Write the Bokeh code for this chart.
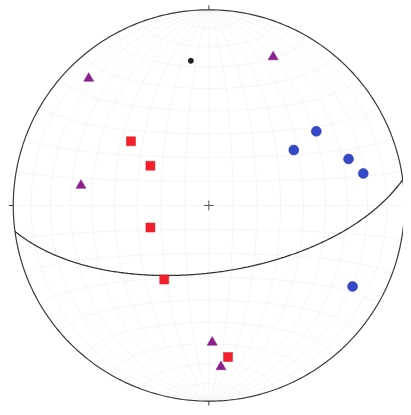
import numpy as np
from bokeh.plotting import figure
from bokeh.embed import file_html
from bokeh.resources import INLINE

# ---- data (trend, plunge in degrees; lower-hemisphere equal-area net) ----
red_trend = [309.5, 304.2, 249.3, 211.1, 172.8]
red_plunge = [47.2, 60.4, 63.9, 53.6, 23.0]

blue_trend = [55.4, 56.9, 71.6, 78.3, 119.4]
blue_plunge = [33.7, 47.0, 25.7, 20.5, 16.8]

purple_trend = [316.6, 23.4, 278.9, 178.6, 175.7]
purple_plunge = [11.6, 18.4, 34.2, 30.7, 18.4]

black_trend = [352.9]
black_plunge = [26.4]

plane_strike = 82.4
plane_dip = 61.9

# ---- projection helpers ----
def proj_vec(e, n, z):
    s = np.sqrt(1.0 + z)
    return e / s, n / s

def proj_tp(trend, plunge):
    t = np.radians(np.asarray(trend, float))
    p = np.radians(np.asarray(plunge, float))
    e = np.cos(p) * np.sin(t)
    n = np.cos(p) * np.cos(t)
    z = np.sin(p)
    return proj_vec(e, n, z)

# geometry (reference image 411x415, net centre and radius in its pixels)
CX, CY, R = 212.5, 209.0, 199.5
IW, IH = 411, 415
W, H = 403, 407
x0 = (0 - CX) / R
x1 = (IW - CX) / R
y1 = (CY - 0) / R
y0 = (CY - IH) / R

p = figure(width=W, height=H, x_range=(x0, x1), y_range=(y0, y1),
           output_backend="svg", toolbar_location=None, min_border=0)
p.axis.visible = False
p.grid.visible = False
p.outline_line_color = None
p.background_fill_color = "white"
p.border_fill_color = "white"

grid_col = "#f0f0f0"
tt = np.linspace(0, np.pi, 181)
# Schmidt net meridians (great circles striking N-S)
for d in range(10, 180, 10):
    dr = np.radians(d)
    e = np.sin(tt) * np.cos(dr)
    n = np.cos(tt)
    z = np.sin(tt) * np.sin(dr)
    xs, ys = proj_vec(e, n, np.abs(z))
    p.line(xs, ys, line_color=grid_col, line_width=0.7)
# small circles about N-S axis
for c in range(10, 180, 10):
    cr = np.radians(c)
    e = np.sin(cr) * np.cos(tt)
    n = np.full_like(tt, np.cos(cr))
    z = np.sin(cr) * np.sin(tt)
    xs, ys = proj_vec(e, n, z)
    p.line(xs, ys, line_color=grid_col, line_width=0.7)

# primitive circle
a = np.linspace(0, 2 * np.pi, 400)
p.line(np.cos(a), np.sin(a), line_color="#3a3a3a", line_width=1.2)

# tick marks at N, W, S, E
tk = 0.022
p.segment(x0=[0, -1 - tk, 0, 1], y0=[1, 0, -1 - tk, 0],
          x1=[0, -1, 0, 1 + tk], y1=[1 + tk, 0, -1, 0],
          line_color="#3a3a3a", line_width=1)
# centre cross
cc = 0.025
p.segment(x0=[-cc, 0], y0=[0, -cc], x1=[cc, 0], y1=[0, cc],
          line_color="#555555", line_width=1)

# great circle of the plane
s = np.radians(plane_strike)
dd = np.radians(plane_strike + 90)
dp = np.radians(plane_dip)
S = np.array([np.sin(s), np.cos(s), 0.0])
D = np.array([np.sin(dd) * np.cos(dp), np.cos(dd) * np.cos(dp), np.sin(dp)])
aa = np.linspace(0, np.pi, 300)
V = np.outer(np.cos(aa), S) + np.outer(np.sin(aa), D)
gx, gy = proj_vec(V[:, 0], V[:, 1], V[:, 2])
p.line(gx, gy, line_color="#333333", line_width=1.3)

# points
rx, ry = proj_tp(red_trend, red_plunge)
p.scatter(rx, ry, marker="square", size=9, fill_color="#f2202a",
          line_color="#e01820", line_width=0.5)

bx, by = proj_tp(blue_trend, blue_plunge)
p.scatter(bx, by, marker="circle", size=10, fill_color="#3448c8",
          line_color="#2a3aa8", line_width=0.5)

px_, py_ = proj_tp(purple_trend, purple_plunge)
p.scatter(px_, py_, marker="triangle", size=10, fill_color="#8e1f8e",
          line_color="#7a187a", line_width=0.5)

kx, ky = proj_tp(black_trend, black_plunge)
p.scatter(kx, ky, marker="circle", size=5, fill_color="#222222",
          line_color="#222222")

open("out.html", "w").write(file_html(p, INLINE))
